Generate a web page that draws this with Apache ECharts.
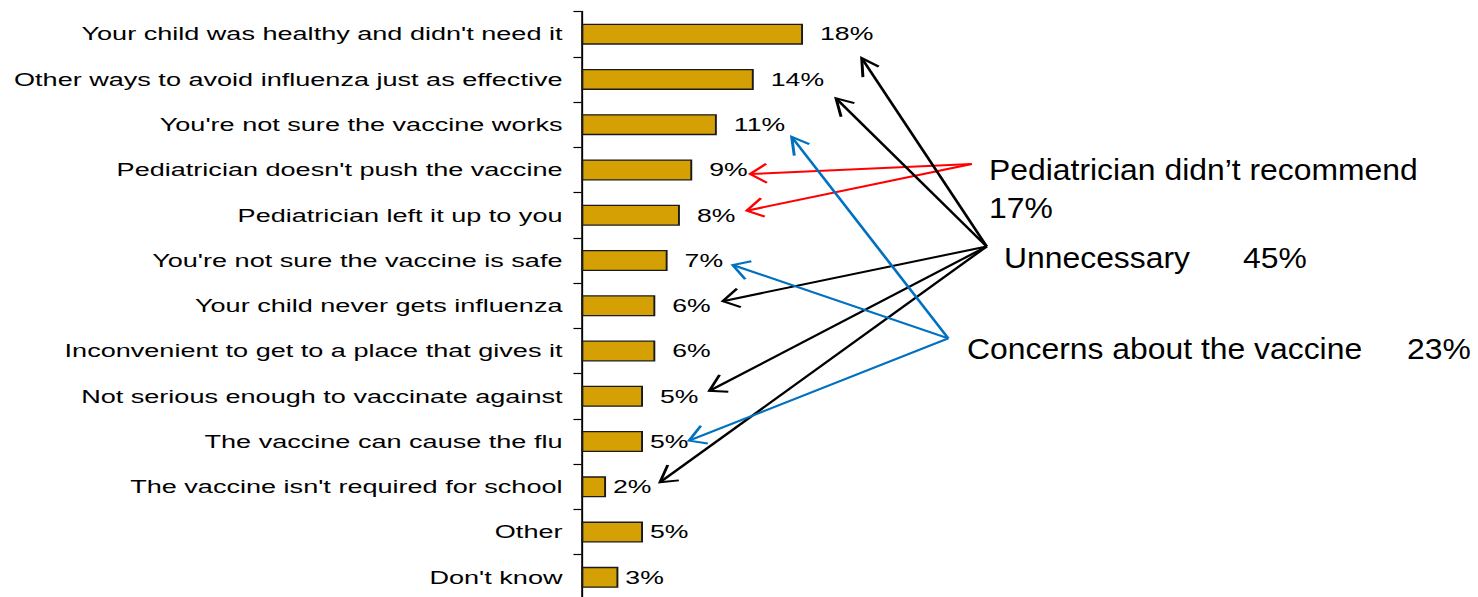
<!DOCTYPE html>
<html>
<head>
<meta charset="utf-8">
<script src="https://cdn.jsdelivr.net/npm/echarts@6/dist/echarts.min.js"></script>
<style>
html, body { margin: 0; padding: 0; background: #fff; overflow: hidden; }
/* the source picture is stretched sideways, so the chart is drawn narrow and widened */
#chart { width: 999px; height: 597px; transform: scaleX(1.4795); transform-origin: 0 0; }
</style>
</head>
<body>
<div id="chart"></div>
<script>
// ==========================================================================
// Data
// ==========================================================================
var reasons = [
    "Your child was healthy and didn't need it",
    'Other ways to avoid influenza just as effective',
    "You're not sure the vaccine works",
    "Pediatrician doesn't push the vaccine",
    'Pediatrician left it up to you',
    "You're not sure the vaccine is safe",
    'Your child never gets influenza',
    'Inconvenient to get to a place that gives it',
    'Not serious enough to vaccinate against',
    'The vaccine can cause the flu',
    "The vaccine isn't required for school",
    'Other',
    "Don't know"
];
var percents = [18, 14, 11, 9, 8, 7, 6, 6, 5, 5, 2, 5, 3];

// Grouped reasons written at the right
var groupNames = ['Pediatrician didn\u2019t recommend', 'Unnecessary', 'Concerns about the vaccine'];
var groupPercents = [17, 45, 23];

// ==========================================================================
// Layout helpers
// ==========================================================================
var SX = 1.4795;          // horizontal stretch of the container
var FONT = '"Liberation Sans", Arial, Helvetica, sans-serif';

// Arrows: start and end given in chart units (percent, category index)
var arrowGroups = [
    { color: '#FF0000', from: [31.71, 2.87], to: [[13.70, 3.09], [13.43, 3.90]] },
    { color: '#000000', from: [32.92, 4.69], to: [[22.77, 0.53], [20.68, 1.42], [11.48, 5.90], [10.39, 7.88], [6.38, 9.90]] },
    { color: '#0070C0', from: [29.80, 6.72], to: [[17.08, 2.27], [12.29, 5.10], [8.74, 8.98]] }
];

var chart = echarts.init(document.getElementById('chart'), null, { renderer: 'svg' });

chart.setOption({
    animation: false,
    backgroundColor: '#fff',
    grid: {
        left: 393,
        top: 11.5,
        width: 416,
        height: 588.5,
        containLabel: false,
        outerBoundsMode: 'none'
    },
    xAxis: {
        type: 'value',
        min: 0,
        max: 50,
        show: false
    },
    yAxis: {
        type: 'category',
        inverse: true,
        data: reasons,
        axisLine: { show: true, lineStyle: { color: '#000', width: 1.3 } },
        axisTick: {
            show: true,
            inside: false,
            alignWithLabel: false,
            length: 5.4,
            lineStyle: { color: '#000', width: 1.2 }
        },
        axisLabel: {
            margin: 12.8,
            color: '#000',
            fontSize: 18.3,
            fontFamily: FONT
        }
    },
    series: [
        {
            type: 'bar',
            barWidth: 21,
            data: percents.map(function (v, i) {
                // the last four labels sit closer to their bars
                return { value: v, label: { distance: i < 9 ? 11.5 : 4.7 } };
            }),
            itemStyle: {
                color: '#D5A004',
                borderColor: '#1a1a1a',
                borderWidth: 1.3
            },
            label: {
                show: true,
                position: 'right',
                formatter: '{c}%',
                color: '#000',
                fontSize: 18,
                fontFamily: FONT
            }
        }
    ]
});

// ==========================================================================
// Annotations (arrows and group texts)
// ==========================================================================
var p0 = chart.convertToPixel({ gridIndex: 0 }, [0, 0]);
var p1 = chart.convertToPixel({ gridIndex: 0 }, [10, 1]);
function toPx(pt) {
    return [p0[0] + (p1[0] - p0[0]) * pt[0] / 10, p0[1] + (p1[1] - p0[1]) * pt[1]];
}

function arrowHead(tip, from) {
    // build the open V head in screen space, then squeeze back
    var tx = tip[0] * SX, ty = tip[1];
    var dx = from[0] * SX - tx, dy = from[1] - ty;
    var len = Math.sqrt(dx * dx + dy * dy);
    dx /= len; dy /= len;
    var a = Math.PI / 6, L = 19;
    var pts = [a, -a].map(function (ang) {
        var rx = dx * Math.cos(ang) - dy * Math.sin(ang);
        var ry = dx * Math.sin(ang) + dy * Math.cos(ang);
        return [(tx + rx * L) / SX, ty + ry * L];
    });
    return [pts[0], tip, pts[1]];
}

var elements = [];
arrowGroups.forEach(function (g) {
    var o = toPx(g.from);
    g.to.forEach(function (t) {
        var e = toPx(t);
        elements.push({
            type: 'line',
            shape: { x1: o[0], y1: o[1], x2: e[0], y2: e[1] },
            style: { stroke: g.color, lineWidth: 2 },
            silent: true
        });
        elements.push({
            type: 'polyline',
            shape: { points: arrowHead(e, o) },
            style: { stroke: g.color, lineWidth: 2, fill: null },
            silent: true
        });
    });
});

// group texts: [text, left, middle] in screen pixels
var textSpots = [
    [groupNames[0], 989, 170],
    [groupPercents[0] + '%', 989, 208],
    [groupNames[1], 1004, 258],
    [groupPercents[1] + '%', 1243, 258],
    [groupNames[2], 967, 349],
    [groupPercents[2] + '%', 1407, 349]
];
textSpots.forEach(function (t) {
    elements.push({
        type: 'text',
        x: t[1] / SX,
        y: t[2],
        scaleX: 1.1 / SX,
        silent: true,
        style: {
            text: t[0],
            fill: '#000',
            font: '29px ' + FONT,
            verticalAlign: 'middle',
            align: 'left'
        }
    });
});

chart.setOption({ graphic: { elements: elements } });
</script>
</body>
</html>
